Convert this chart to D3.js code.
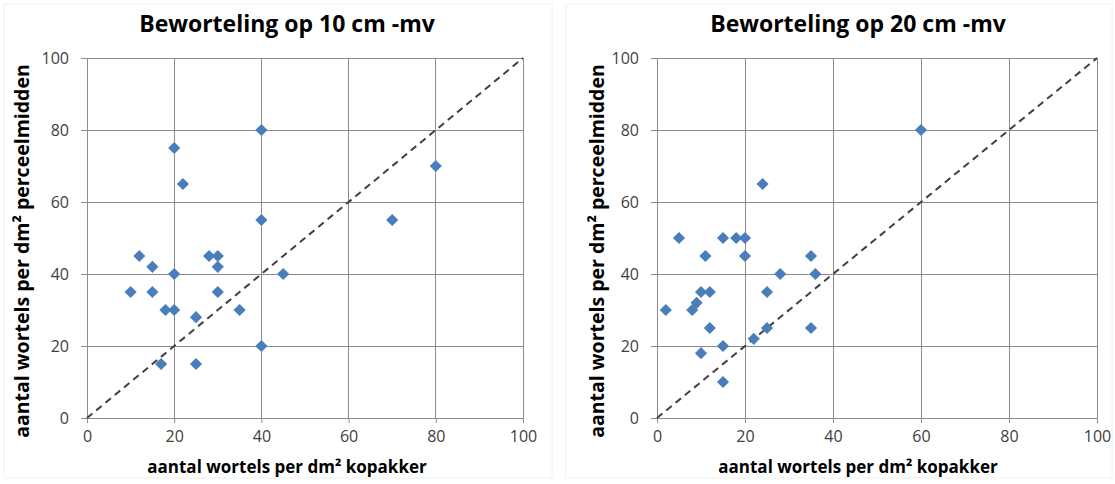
<!DOCTYPE html>
<html>
<head>
<meta charset="utf-8">
<script src="https://cdn.jsdelivr.net/npm/d3@7"></script>
<style>
  html, body { margin: 0; padding: 0; background: #fff; }
  svg { display: block; }
</style>
</head>
<body>
<svg id="chart" width="1115" height="484"></svg>
<script>
// Root counts per dm², kopakker (x) versus perceelmidden (y)
const titles = ["Beworteling op 10 cm -mv", "Beworteling op 20 cm -mv"];

const kopakker10 = [20, 22, 40, 40, 12, 15, 10, 15, 20, 18, 20, 17, 25, 25, 28, 30, 30, 30, 35, 40, 45, 70, 80];
const midden10   = [75, 65, 80, 55, 45, 42, 35, 35, 40, 30, 30, 15, 28, 15, 45, 45, 42, 35, 30, 20, 40, 55, 70];

const kopakker20 = [24, 60, 5, 15, 18, 20, 11, 20, 35, 28, 36, 10, 12, 25, 9, 8, 2, 12, 25, 35, 22, 15, 10, 15];
const midden20   = [65, 80, 50, 50, 50, 50, 45, 45, 45, 40, 40, 35, 35, 35, 32, 30, 30, 25, 25, 25, 22, 20, 18, 10];

const tickValues = [0, 20, 40, 60, 80, 100];
const xAxisTitle = "aantal wortels per dm² kopakker";
const yAxisTitle = "aantal wortels per dm² perceelmidden";

const svg = d3.select("#chart");
const gridColor = "#8c8c8c";
const markerColor = "#4a7ebb";
const labelFont = "'Open Sans', 'Liberation Sans', sans-serif";

function drawPanel(opts) {
  const { left, right, top, bottom, title, xs, ys, frameLeft, frameRight, textCenter, yTitleX } = opts;

  // faint chart-area frame
  svg.append("rect")
    .attr("x", frameLeft).attr("y", 4)
    .attr("width", frameRight - frameLeft).attr("height", 474)
    .attr("fill", "none").attr("stroke", "#f0f0f0");

  const x = d3.scaleLinear().domain([0, 100]).range([left, right]);
  const y = d3.scaleLinear().domain([0, 100]).range([bottom, top]);

  const g = svg.append("g");

  // gridlines
  g.append("g").selectAll("line").data(tickValues).join("line")
    .attr("x1", d => x(d)).attr("x2", d => x(d))
    .attr("y1", top).attr("y2", bottom)
    .attr("stroke", gridColor).attr("stroke-width", 1).attr("shape-rendering", "crispEdges");
  g.append("g").selectAll("line").data(tickValues).join("line")
    .attr("x1", left).attr("x2", right)
    .attr("y1", d => y(d)).attr("y2", d => y(d))
    .attr("stroke", gridColor).attr("stroke-width", 1).attr("shape-rendering", "crispEdges");

  // axes
  const xAxis = g.append("g").attr("transform", `translate(0,${bottom})`)
    .call(d3.axisBottom(x).tickValues(tickValues).tickSize(5).tickPadding(8));
  const yAxis = g.append("g").attr("transform", `translate(${left},0)`)
    .call(d3.axisLeft(y).tickValues(tickValues).tickSize(6).tickPadding(12));
  [xAxis, yAxis].forEach(a => {
    a.select(".domain").attr("stroke", gridColor);
    a.selectAll(".tick line").attr("stroke", gridColor);
    a.selectAll(".tick text").attr("font-size", 16).attr("fill", "#404040")
      .attr("font-family", labelFont);
  });

  // 1:1 reference line
  g.append("line")
    .attr("x1", x(0)).attr("y1", y(0)).attr("x2", x(100)).attr("y2", y(100))
    .attr("stroke", "#404040").attr("stroke-width", 2).attr("stroke-dasharray", "7,5");

  // data markers
  const diamond = d3.symbol().type(d3.symbolSquare).size(74);
  g.append("g").selectAll("path").data(xs.map((v, i) => [v, ys[i]])).join("path")
    .attr("d", diamond)
    .attr("transform", d => `translate(${x(d[0])},${y(d[1])}) rotate(45)`)
    .attr("fill", markerColor);

  // titles
  svg.append("text")
    .attr("x", textCenter).attr("y", 32).attr("text-anchor", "middle")
    .attr("font-family", labelFont).attr("font-weight", "bold").attr("font-size", 23)
    .attr("fill", "#000").text(title);

  svg.append("text")
    .attr("x", textCenter).attr("y", 473).attr("text-anchor", "middle")
    .attr("font-family", labelFont).attr("font-weight", "bold").attr("font-size", 17)
    .attr("fill", "#000").text(xAxisTitle);

  svg.append("text")
    .attr("transform", `translate(${yTitleX},251) rotate(-90)`)
    .attr("text-anchor", "middle")
    .attr("font-family", labelFont).attr("font-weight", "bold").attr("font-size", 19.5)
    .attr("fill", "#000").text(yAxisTitle);
}

drawPanel({ left: 87, right: 523, top: 58, bottom: 418, title: titles[0],
  xs: kopakker10, ys: midden10, frameLeft: 4, frameRight: 552, textCenter: 287, yTitleX: 29 });
drawPanel({ left: 657, right: 1097, top: 58, bottom: 418, title: titles[1],
  xs: kopakker20, ys: midden20, frameLeft: 566, frameRight: 1112, textCenter: 858, yTitleX: 604 });
</script>
</body>
</html>
